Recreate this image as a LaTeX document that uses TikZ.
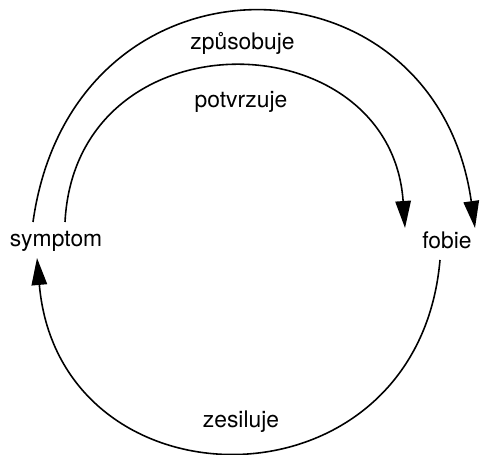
\documentclass[tikz,border=0pt]{standalone}
\usepackage{fontspec}
\setmainfont{TeX Gyre Heros}
\usetikzlibrary{arrows.meta}

\begin{document}
\begin{tikzpicture}[every node/.style={inner sep=2pt, font=\fontsize{13}{15}\selectfont},
    cyclearc/.style={line width=0.9pt, -{Triangle[length=5.4mm, width=3.1mm]}}]
    \useasboundingbox (0,0) rectangle (9.64,9.10);

    % The two states of the vicious circle
    \node[anchor=base] (symptom) at (1.12,4.16) {symptom};
    \node[anchor=base] (fobie)   at (8.94,4.12) {fobie};

    % Arc labels
    \node[anchor=base] (zpusobuje) at (4.85,8.10) {způsobuje};
    \node[anchor=base] (potvrzuje) at (4.82,6.94) {potvrzuje};
    \node[anchor=base] (zesiluje)  at (4.82,0.54) {zesiluje};

    % Outer and inner arcs over the top, symptom -> fobie
    \draw[cyclearc] ([shift={(-0.46,0.50)}]symptom.base)
        to[out=82, in=98, looseness=1.65] ([shift={(0.56,0.42)}]fobie.base);
    \draw[cyclearc] ([shift={(0.18,0.50)}]symptom.base)
        to[out=87, in=94, looseness=1.58] ([shift={(-0.84,0.42)}]fobie.base);

    % Lower arc back, fobie -> symptom
    \draw[cyclearc] ([shift={(-0.14,-0.22)}]fobie.base)
        to[out=-95, in=-85, looseness=1.63] ([shift={(-0.38,-0.22)}]symptom.base);
\end{tikzpicture}
\end{document}
